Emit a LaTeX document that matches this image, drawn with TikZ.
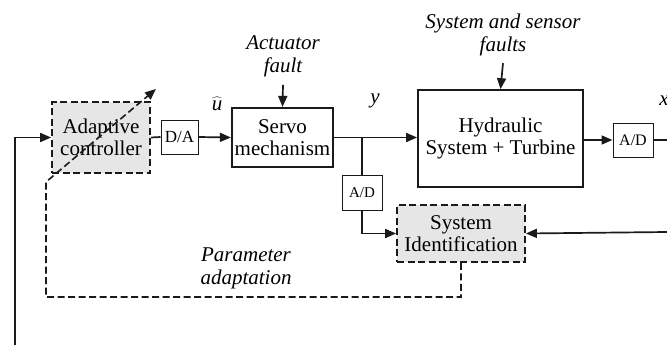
\documentclass[tikz,border=0pt]{standalone}
\usepackage{fontspec}
\setmainfont{Liberation Serif}
\usetikzlibrary{arrows.meta}
\definecolor{ink}{HTML}{1A1A1A}
\definecolor{shade}{HTML}{E6E6E6}
\tikzset{
  big/.style={font=\fontsize{21}{22}\selectfont},
  lbl/.style={font=\fontsize{21}{23}\selectfont\itshape, align=center, inner sep=0pt},
  blockbox/.style={draw=ink, line width=1.7pt, align=center, inner sep=0pt, big},
  adbox/.style={draw=ink, line width=1pt, inner sep=0pt, align=center},
  dashbox/.style={blockbox, fill=shade, dash pattern=on 7pt off 3.5pt},
  wire/.style={draw=ink, line width=1.7pt},
  arr/.style={wire, -{Triangle[length=11pt,width=9pt]}},
  dwire/.style={wire, line width=1.6pt, dash pattern=on 7pt off 3.5pt},
}
\begin{document}
\begin{tikzpicture}[x=1pt, y=-1pt]
\useasboundingbox (0,0) rectangle (667,345);
\clip (0,0) rectangle (667,345);

% blocks
\node[dashbox, minimum width=98pt, minimum height=71pt] (ac) at (101,137.5) {Adaptive\\controller};
\node[adbox, minimum width=37pt, minimum height=34pt, font=\fontsize{17}{19}\selectfont] (da) at (179.5,137) {D/A};
\node[blockbox, line width=2.2pt, minimum width=101pt, minimum height=59pt] (servo) at (282.5,137.5) {Servo\\mechanism};
\node[blockbox, minimum width=165pt, minimum height=97pt] (hyd) at (500.5,138.5) {Hydraulic\\System + Turbine};
\node[adbox, minimum width=40pt, minimum height=34pt, font=\fontsize{16}{18}\selectfont] (adr) at (633,140) {A/D};
\node[adbox, minimum width=40pt, minimum height=35pt, font=\fontsize{15}{17}\selectfont] (adm) at (362,192.5) {A/D};
\node[dashbox, minimum width=128pt, minimum height=57pt] (sid) at (461,233.5) {System\\Identification};

% labels
\node[lbl] (act) at (283,56) {Actuator\\fault};
\node[lbl] (ssf) at (503,35) {System and sensor\\faults};
\node[lbl] (uhat) at (217,104) {$\widehat{\textit{u}}$};
\node[lbl] (ylab) at (375,101) {y};
\node[lbl] (xlab) at (664,101) {x};
\node[lbl] (param) at (246,268) {Parameter\\adaptation};

% helper points
\coordinate (fb) at (15,345);
\coordinate (br) at (362,137);
\coordinate (xout) at (667,140);
\coordinate (xin) at (667,232);
\coordinate (pcorner) at (46,182);
\coordinate (ptip) at (156,89);

% signal path
\draw[arr] (fb) |- (ac.west);
\draw[wire] (ac.east) -- (da.west);
\draw[arr] (da.east) -- (servo.west);
\draw[arr] (act.south) ++(0,8) -- (servo.north);
\draw[arr] (servo.east) -- (servo.east -| hyd.west);
\draw[arr] (ssf.south) ++(0,7) -- (hyd.north);
\draw[arr] (hyd.east |- adr.west) -- (adr.west);
\draw[wire] (adr.east) -- (xout);
\draw[wire] (br) -- (adm.north);
\draw[arr] (adm.south) |- (sid.west);
\draw[arr] (xin) -- (sid.east);

% parameter adaptation path
\draw[dwire, -{Triangle[length=11pt,width=9pt]}] (sid.south) -- (sid.south |- 0,297) -| (pcorner) -- (ptip);
\end{tikzpicture}
\end{document}
